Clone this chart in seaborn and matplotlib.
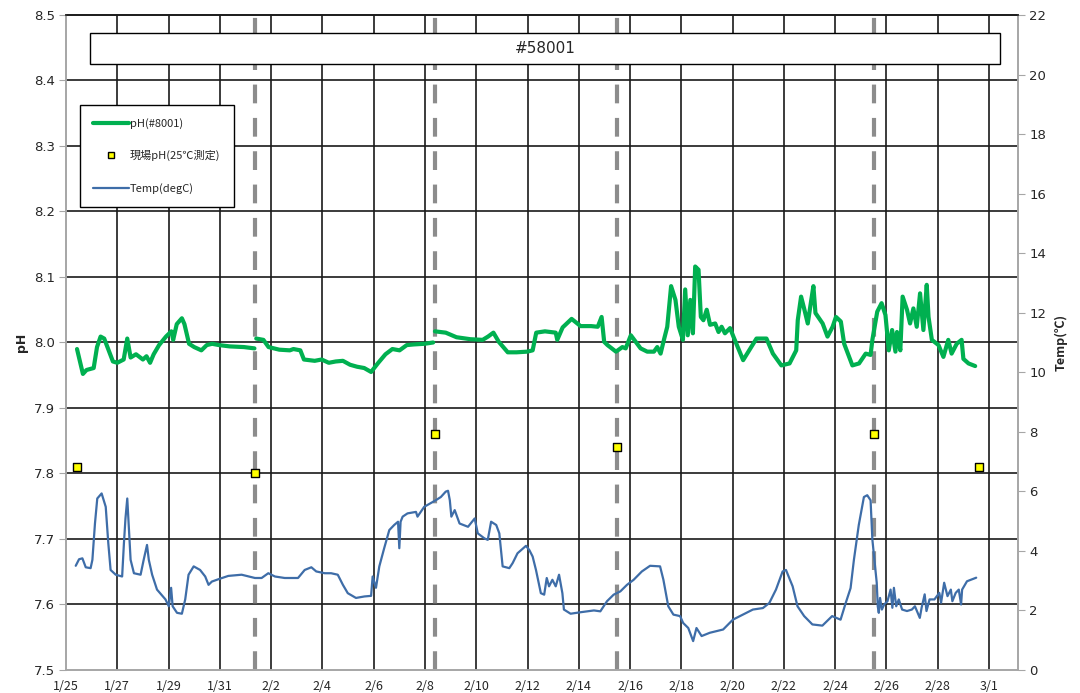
import pandas as pd
import seaborn as sns
import matplotlib.pyplot as plt
from matplotlib.patches import Rectangle
from matplotlib.lines import Line2D

sns.set_style('white')
plt.rcParams['font.family'] = ['DejaVu Sans', 'Noto Sans CJK JP']
jp = ['Noto Sans CJK JP', 'DejaVu Sans']

start = pd.Timestamp('2024-01-25')

# pH sensor #8001 : day offset from 1/25 00:00, value
ph_days = [0.43, 0.66, 0.80, 1.08, 1.21, 1.35, 1.49, 1.83, 2.00, 2.25, 2.39, 2.52, 2.73, 3.00, 3.14,
           3.28, 3.42, 3.63, 3.90, 4.11, 4.18, 4.32, 4.52, 4.62, 4.80, 5.00, 5.28, 5.49, 5.70, 5.97,
           6.39, 6.94, 7.35,
           7.42, 7.70, 7.90, 8.32, 8.73, 8.87, 9.14, 9.28, 9.70, 9.97, 10.25, 10.52, 10.80, 11.08,
           11.35, 11.63, 11.90, 12.18, 12.46, 12.73, 13.01, 13.29, 13.56, 13.98, 14.32,
           14.39, 14.81, 15.23, 15.77, 16.25, 16.46, 16.67, 16.88, 17.23, 17.57, 17.99, 18.20, 18.34,
           18.68, 19.10, 19.16, 19.37, 19.72, 20.07, 20.48, 20.74, 20.89, 20.99, 21.12, 21.45, 21.70,
           21.83, 22.03, 22.22, 22.41, 22.67, 22.93, 23.06, 23.19, 23.32, 23.45, 23.60, 23.77, 23.90,
           24.06, 24.15, 24.25, 24.35, 24.45, 24.54, 24.67, 24.76, 24.86, 24.99, 25.12, 25.32, 25.45,
           25.57, 25.70, 25.90, 26.03, 26.41, 26.93, 27.32, 27.57, 27.90, 28.22, 28.48, 28.54, 28.67,
           28.80, 28.93, 29.06, 29.15, 29.23, 29.51, 29.70, 29.90, 30.03, 30.22, 30.35, 30.67, 30.93,
           31.19, 31.38, 31.45, 31.64, 31.81, 31.96, 32.09, 32.22, 32.35, 32.41, 32.54, 32.63, 32.80,
           32.92, 33.05, 33.18, 33.31, 33.44, 33.57, 33.64, 33.77, 34.03, 34.22, 34.41, 34.54, 34.74,
           34.93, 35.00, 35.20, 35.46]
ph_vals = [7.990, 7.952, 7.958, 7.961, 7.993, 8.009, 8.006, 7.971, 7.969, 7.974, 8.006, 7.977, 7.982, 7.974, 7.979,
           7.969, 7.982, 7.996, 8.009, 8.017, 8.004, 8.028, 8.037, 8.028, 7.998, 7.993, 7.988, 7.996, 7.998, 7.996,
           7.994, 7.993, 7.991,
           8.006, 8.004, 7.993, 7.989, 7.988, 7.990, 7.988, 7.974, 7.972, 7.974, 7.969, 7.971, 7.972, 7.966,
           7.963, 7.961, 7.955, 7.969, 7.982, 7.990, 7.988, 7.996, 7.997, 7.998, 8.000,
           8.017, 8.015, 8.008, 8.005, 8.004, 8.009, 8.015, 8.001, 7.985, 7.985, 7.986, 7.988, 8.015,
           8.017, 8.015, 8.004, 8.023, 8.036, 8.025, 8.025, 8.024, 8.039, 8.001, 7.996, 7.986, 7.993,
           7.991, 8.011, 8.001, 7.991, 7.986, 7.986, 7.993, 7.983, 8.004, 8.024, 8.086, 8.065, 8.024,
           8.004, 8.081, 8.011, 8.065, 8.014, 8.116, 8.111, 8.039, 8.034, 8.050, 8.027, 8.029, 8.016,
           8.024, 8.014, 8.022, 8.009, 7.973, 8.006, 8.006, 7.983, 7.965, 7.968, 7.988, 8.034, 8.070,
           8.050, 8.029, 8.063, 8.086, 8.045, 8.029, 8.009, 8.024, 8.039, 8.032, 7.998, 7.965, 7.968,
           7.983, 7.981, 8.004, 8.047, 8.060, 8.042, 7.988, 8.019, 7.986, 8.016, 7.988, 8.070, 8.050,
           8.029, 8.052, 8.024, 8.075, 8.019, 8.088, 8.039, 8.004, 7.996, 7.978, 8.004, 7.983, 7.998,
           8.004, 7.975, 7.968, 7.964]
ph_breaks = [7.38, 14.36]  # sensor gaps at the check visits

# water temperature (degC)
t_days = [0.38, 0.51, 0.64, 0.77, 0.96, 1.03, 1.13, 1.22, 1.39, 1.55, 1.65, 1.74, 1.94, 2.19, 2.26,
          2.32, 2.39, 2.45, 2.52, 2.65, 2.91, 3.03, 3.16, 3.23, 3.36, 3.55, 3.88, 4.01, 4.10, 4.16,
          4.33, 4.52, 4.65, 4.78, 4.98, 5.23, 5.43, 5.56, 5.69, 5.95, 6.33, 6.85, 7.37, 7.63, 7.89,
          8.15, 8.53, 9.05, 9.31, 9.57, 9.76, 10.09, 10.34, 10.60, 10.80, 10.99, 11.31, 11.64, 11.90,
          11.96, 12.09, 12.22, 12.41, 12.61, 12.80, 12.95, 13.00, 13.05, 13.13, 13.32, 13.65, 13.71,
          13.97, 14.42, 14.62, 14.81, 14.90, 14.97, 15.03, 15.16, 15.35, 15.68, 15.94, 16.06, 16.32,
          16.45, 16.58, 16.78, 16.90, 17.03, 17.29, 17.42, 17.61, 17.94, 18.07, 18.20, 18.33, 18.52,
          18.65, 18.75, 18.84, 18.97, 19.10, 19.23, 19.36, 19.42, 19.68, 20.07, 20.59, 20.84, 21.10,
          21.36, 21.62, 21.88, 22.14, 22.46, 22.78, 23.17, 23.30, 23.49, 23.69, 23.95, 24.07, 24.27,
          24.46, 24.59, 24.79, 25.11, 25.63, 26.01, 26.40, 26.79, 27.18, 27.43, 27.69, 27.95, 28.08,
          28.34, 28.53, 28.79, 29.11, 29.50, 29.88, 30.21, 30.41, 30.60, 30.73, 30.92, 31.12, 31.25,
          31.38, 31.45, 31.53, 31.62, 31.66, 31.70, 31.75, 31.82, 31.91, 32.04, 32.16, 32.23, 32.29,
          32.38, 32.48, 32.61, 32.80, 32.99, 33.11, 33.30, 33.37, 33.49, 33.56, 33.68, 33.87, 34.06,
          34.13, 34.25, 34.38, 34.51, 34.57, 34.70, 34.82, 34.91, 34.95, 35.14, 35.50]
t_vals = [3.50, 3.72, 3.75, 3.45, 3.42, 3.70, 4.92, 5.76, 5.93, 5.48, 4.26, 3.36, 3.20, 3.14, 4.26,
          5.09, 5.76, 4.81, 3.70, 3.25, 3.20, 3.70, 4.20, 3.70, 3.20, 2.70, 2.37, 2.14, 2.76, 2.14,
          1.92, 1.89, 2.37, 3.20, 3.48, 3.36, 3.14, 2.86, 2.97, 3.05, 3.16, 3.20, 3.09, 3.09, 3.25,
          3.14, 3.09, 3.09, 3.36, 3.45, 3.31, 3.25, 3.25, 3.20, 2.86, 2.58, 2.42, 2.47, 2.49,
          3.14, 2.76, 3.48, 4.09, 4.70, 4.87, 4.98, 4.09, 4.98, 5.15, 5.26, 5.31, 5.15,
          5.48, 5.70, 5.81, 5.99, 6.02, 5.70, 5.15, 5.37, 4.92, 4.81, 5.09, 4.59, 4.42,
          4.37, 4.98, 4.87, 4.59, 3.48, 3.42, 3.59, 3.92, 4.17, 4.03, 3.81, 3.36, 2.58,
          2.53, 3.09, 2.81, 3.03, 2.81, 3.20, 2.58, 2.03, 1.89, 1.94, 2.00, 1.97, 2.31,
          2.53, 2.64, 2.86, 3.03, 3.31, 3.50, 3.48, 3.03, 2.14, 1.86, 1.81, 1.58, 1.41,
          0.97, 1.41, 1.14, 1.25, 1.36, 1.69, 1.86, 2.03, 2.08, 2.25, 2.70, 3.31, 3.36,
          2.81, 2.14, 1.81, 1.53, 1.49, 1.81, 1.69, 2.25, 2.75, 3.70, 4.87, 5.81, 5.87,
          5.70, 4.38, 3.71, 2.93, 2.14, 1.92, 2.42, 2.03, 2.20, 2.31, 2.70, 2.09, 2.76,
          2.14, 2.37, 2.03, 1.98, 2.03, 2.14, 1.75, 2.09, 2.54, 1.98, 2.37, 2.37, 2.59,
          2.26, 2.93, 2.48, 2.70, 2.31, 2.59, 2.70, 2.20, 2.70, 2.98, 3.10]

# on-site pH (measured at 25 degC) and the check visits
site_days = [0.43, 7.37, 14.40, 21.50, 31.50, 35.60]
site_ph = [7.81, 7.80, 7.86, 7.84, 7.86, 7.81]
visit_days = [7.37, 14.40, 21.50, 31.50]

ph_df = pd.DataFrame({'time': start + pd.to_timedelta(ph_days, unit='D'), 'pH': ph_vals})
ph_df['seg'] = sum((pd.Series(ph_days) > b).astype(int) for b in ph_breaks)
t_df = pd.DataFrame({'time': start + pd.to_timedelta(t_days, unit='D'), 'temp': t_vals})
site_df = pd.DataFrame({'time': start + pd.to_timedelta(site_days, unit='D'), 'pH': site_ph})

fig, ax = plt.subplots(figsize=(10.8, 6.93), dpi=100)
fig.subplots_adjust(left=0.0611, right=0.9426, bottom=0.0332, top=0.9784)
ax2 = ax.twinx()

green = '#00B050'
blue = '#3E6DA8'
grey = '#A6A6A6'

xmin = start
xmax = start + pd.Timedelta(days=37.13)
tick_dates = pd.date_range('2024-01-25', '2024-03-01', freq='2D')

# grid
for v in [7.6, 7.7, 7.8, 7.9, 8.0, 8.1, 8.2, 8.3, 8.4]:
    ax.axhline(v, color='#1a1a1a', lw=1.2, zorder=1)
for d in tick_dates[1:]:
    ax.axvline(d, color='#1a1a1a', lw=1.2, zorder=1)
for d in visit_days:
    ax.axvline(start + pd.Timedelta(days=d), color='#8C8C8C', lw=3, ls=(0, (4.5, 3.5)), zorder=2)

sns.lineplot(data=ph_df, x='time', y='pH', units='seg', estimator=None, color=green,
             lw=3, ax=ax, zorder=3)
sns.scatterplot(data=site_df, x='time', y='pH', marker='s', s=40, color='#FFFF00',
                edgecolor='black', linewidth=1, ax=ax, zorder=5)
sns.lineplot(data=t_df, x='time', y='temp', color=blue, lw=1.6, ax=ax2, zorder=3)

ax.set_xlim(xmin, xmax)
ax.set_ylim(7.5, 8.5)
ax2.set_ylim(0, 22)
ax.set_yticks([7.5 + 0.1 * i for i in range(11)])
ax.set_yticklabels([f'{7.5 + 0.1 * i:.1f}' for i in range(11)])
ax2.set_yticks(range(0, 23, 2))
ax.set_xticks(tick_dates)
ax.set_xticklabels([f'{d.month}/{d.day}' for d in tick_dates], family=jp)

ax.tick_params(axis='both', direction='out', length=5, color=grey, labelsize=9.5, pad=3)
ax.tick_params(axis='x', labelsize=9, pad=2)
ax2.tick_params(axis='y', direction='out', length=5, color=grey, labelsize=9.5, pad=3)

for a in (ax, ax2):
    for s in ('left', 'right', 'bottom'):
        a.spines[s].set_color(grey)
        a.spines[s].set_linewidth(1.2)
    a.spines['top'].set_color('#1a1a1a')
    a.spines['top'].set_linewidth(1.2)

ax.set_xlabel('')
ax.set_ylabel('pH', fontsize=9, fontweight='bold', labelpad=4)
ax2.set_ylabel('Temp(℃)', fontsize=9, fontweight='bold', labelpad=6, family=jp)

# station header box
ax.add_patch(Rectangle((0.0252, 0.925), 0.9558, 0.0475, transform=ax.transAxes,
                       facecolor='white', edgecolor='black', lw=1, zorder=10))
ax.text(0.503, 0.949, '#58001', transform=ax.transAxes, ha='center', va='center',
        fontsize=11, zorder=11)

handles = [Line2D([], [], color=green, lw=3),
           Line2D([], [], ls='none', marker='s', markersize=5, markerfacecolor='#FFFF00',
                  markeredgecolor='black', markeredgewidth=1),
           Line2D([], [], color=blue, lw=1.6)]
leg = fig.legend(handles, ['pH(#8001)', '現場pH(25℃測定)', 'Temp(degC)'],
                 loc='upper left', bbox_to_anchor=(80 / 1080, 1 - 105 / 693),
                 prop={'family': jp, 'size': 8}, frameon=True, fancybox=False,
                 edgecolor='black', framealpha=1, handlelength=3.2, handletextpad=0.1,
                 labelspacing=1.9, borderpad=1.2, borderaxespad=0)
leg.get_frame().set_linewidth(1)
leg.set_zorder(20)

plt.savefig('out.png', dpi=100)
